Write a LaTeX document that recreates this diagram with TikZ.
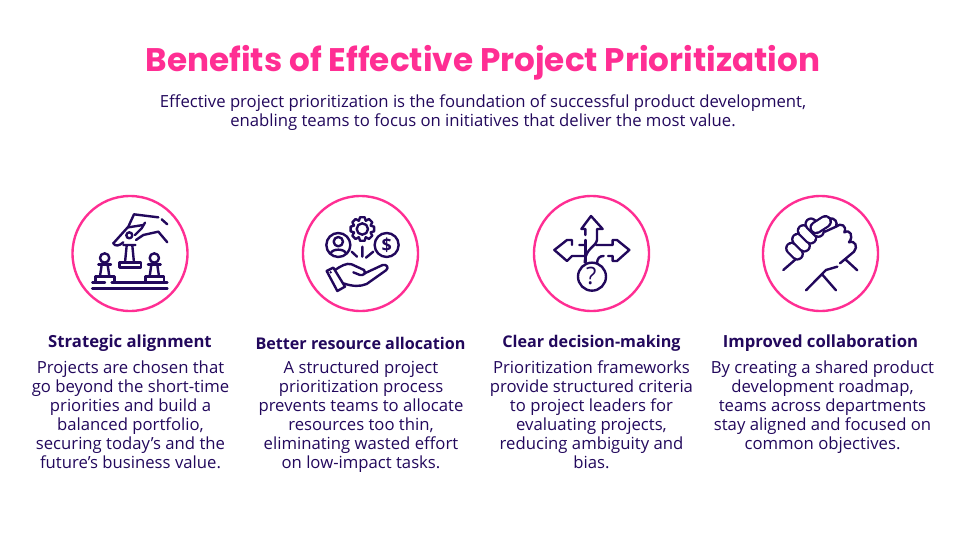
\documentclass[tikz,border=0pt]{standalone}
\usepackage{fontspec}
\setmainfont{Open Sans}
\newfontfamily\titlefont{Poppins}
\definecolor{navy}{HTML}{22085C}
\definecolor{rose}{HTML}{FF2E93}
\tikzset{
  ring/.style={circle,draw=rose,line width=2.4pt,minimum size=115pt,inner sep=0pt},
  stroke/.style={draw=navy,line width=2.4pt,line cap=round,line join=round},
  finger/.style={stroke,double=white,double distance=8.6pt,line width=2.3pt},
  heading/.style={text=navy,font=\fontsize{16.7}{20}\selectfont\bfseries},
  headingtight/.style={text=navy,font=\fontsize{16.15}{20}\selectfont\bfseries},
  body/.style={text=navy,align=center,anchor=north,font=\fontsize{16.7}{19}\selectfont},
  icon/.style={shift={#1},x=.3333pt,y=-.3333pt}
}
\begin{document}
\begin{tikzpicture}[x=1pt,y=-1pt]
  \useasboundingbox (0,0) rectangle (966,543);
  \node[text=rose,font=\fontsize{32.65}{40}\titlefont\bfseries] (title) at (483,63) {Benefits of Effective Project Prioritization};
  \node[text=navy,align=center,font=\fontsize{16.7}{19.2}\selectfont] (intro) at (483,112.5) {Effective project prioritization is the foundation of successful product development,\\enabling teams to focus on initiatives that deliver the most value.};

  \node[ring] (ringa) at (130,253.5) {};
  \node[ring] (ringb) at (360.5,253.5) {};
  \node[ring] (ringc) at (591.5,253.5) {};
  \node[ring] (ringd) at (820.5,253.5) {};

  \node[heading] (heada) at (130,343) {Strategic alignment};
  \node[headingtight] (headb) at (360.5,343) {Better resource allocation};
  \node[headingtight] (headc) at (591.5,343) {Clear decision-making};
  \node[heading] (headd) at (820.5,343) {Improved collaboration};

  \node[body] (bodya) at (130.5,357) {Projects are chosen that\\go beyond the short-time\\priorities and build a\\balanced portfolio,\\securing today’s and the\\future’s business value.};
  \node[body] (bodyb) at (361,357) {A structured project\\prioritization process\\prevents teams to allocate\\resources too thin,\\eliminating wasted effort\\on low-impact tasks.};
  \node[body] (bodyc) at (591.5,357) {Prioritization frameworks\\provide structured criteria\\to project leaders for\\evaluating projects,\\reducing ambiguity and\\bias.};
  \node[body] (bodyd) at (822.5,357) {By creating a shared product\\development roadmap,\\teams across departments\\stay aligned and focused on\\common objectives.};

  % chess
  \begin{scope}[icon={(60,185)}]
    \draw[stroke] (97,292) -- (135,292) (155,292) -- (322,292);
    \draw[stroke,line width=2.8pt] (97,310) -- (322,310);
    \foreach \px in {134,283} {
      \draw[stroke] (\px,219) circle (14);
      \draw[stroke] (\px-19,238) -- (\px+19,238);
      \draw[stroke] (\px-9,240) -- (\px-14,274) (\px+9,240) -- (\px+14,274);
      \draw[stroke] (\px-27,292) -- (\px-27,275) -- (\px+29,275) -- (\px+29,292);
    }
    \draw[stroke] (208,151) circle (9);
    \draw[stroke] (190,180) -- (226,180) (200,182) -- (195,233) (217,182) -- (222,233);
    \draw[stroke] (178,248) -- (178,233) -- (243,233) -- (243,248) -- cycle;
    \draw[stroke] (160,175) -- (205,125) -- (222,88) -- (295,97) (305,103) -- (322,118);
    \draw[stroke] (160,175) .. controls (165,185) and (178,183) .. (190,172) (225,150) -- (245,130) -- (255,113);
    \draw[stroke] (205,127) -- (250,120);
    \draw[stroke] (228,165) -- (250,150) -- (295,140) -- (322,172);
  \end{scope}

  % resources
  \begin{scope}[icon={(290,185)}]
    \draw[stroke] (145,180) circle (36);
    \draw[stroke] (145,170) circle (14);
    \draw[stroke] (122,206) .. controls (125,190) and (165,190) .. (168,206);
    \draw[stroke] (290,180) circle (36);
    \node[text=navy,font=\fontsize{18}{18}\selectfont\bfseries] (dollar) at (290,181) {\$};
    \draw[stroke] (217,132) circle (17);
    \begin{scope}[shift={(217,132)}]
      \draw[stroke] (-22:27) \foreach \ang in {0,45,...,315} {
        -- (\ang-22:27) -- (\ang-11:36) -- (\ang+11:36) -- (\ang+22:27)
      } -- cycle;
    \end{scope}
    \draw[stroke] (185,200) -- (201,215) (217,185) -- (217,215) (250,200) -- (228,218);
    \draw[stroke] (110,258) -- (130,248) -- (165,305) -- (142,318) -- cycle;
    \fill[navy] (122,262) circle (4);
    \draw[stroke] (135,255) .. controls (150,245) and (170,232) .. (185,238) -- (222,255)
      .. controls (230,265) and (220,272) .. (210,270) -- (190,262);
    \draw[stroke] (222,266) -- (278,240) .. controls (290,237) and (298,248) .. (288,256)
      -- (230,297) .. controls (210,305) and (190,305) .. (160,295);
  \end{scope}

  % decision
  \begin{scope}[icon={(522,185)}]
    \draw[stroke] (210,275) circle (42);
    \node[text=navy,font=\fontsize{24}{24}\selectfont] (mark) at (208,273) {?};
    \draw[stroke] (190,150) -- (190,132) -- (178,132) -- (207,93) -- (242,132) -- (225,132) -- (225,165)
      .. controls (222,185) and (190,190) .. (188,232);
    \draw[stroke] (190,165) -- (190,232);
    \draw[stroke] (172,180) -- (190,180) (150,180) -- (150,165) -- (135,165) -- (97,195) -- (135,228) -- (150,213) -- (188,213);
    \draw[stroke] (222,180) -- (272,180) -- (272,165) -- (285,165) -- (322,195) -- (285,228) -- (272,228) -- (272,213) -- (258,213);
    \draw[stroke] (245,213) .. controls (232,213) and (226,220) .. (225,235);
  \end{scope}

  % handshake
  \begin{scope}[icon={(750,185)}]
    \draw[stroke] (100,255) -- (138,222);
    \draw[finger] (125,190) -- (142,207);
    \draw[finger] (143,163) -- (163,183);
    \draw[finger] (160,137) -- (182,159);
    \draw[finger] (183,117) -- (205,139);
    \draw[finger] (198,128) -- (226,110);
    \draw[stroke] (238,100) .. controls (255,98) and (264,112) .. (258,125)
      .. controls (272,112) and (292,122) .. (283,142)
      .. controls (300,132) and (312,152) .. (297,172)
      .. controls (315,165) and (325,185) .. (312,200) -- (270,235);
    \draw[stroke] (225,140) -- (258,125);
    \draw[stroke] (285,222) -- (322,256);
    \draw[stroke] (262,245) -- (228,255) -- (168,316);
    \draw[stroke] (218,270) -- (258,316);
  \end{scope}
\end{tikzpicture}
\end{document}
